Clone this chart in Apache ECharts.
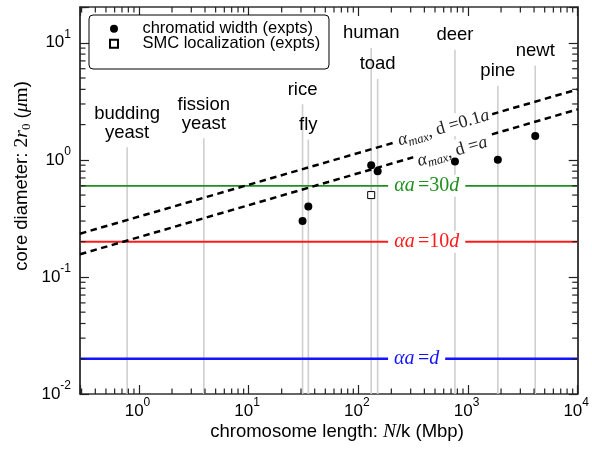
<!DOCTYPE html>
<html>
<head>
<meta charset="utf-8">
<script src="https://cdn.jsdelivr.net/npm/echarts@6/dist/echarts.min.js"></script>
<style>
  html, body { margin: 0; padding: 0; background: #fff; }
  #chart { width: 592px; height: 449px; }
</style>
</head>
<body>
<div id="chart"></div>
<script>
// Typical chromosome length (Mbp) of each organism and where its guide line stops (µm)
const species = ['budding\nyeast', 'fission\nyeast', 'rice', 'fly', 'human', 'toad', 'deer', 'pine', 'newt'];
const speciesLength = [0.78, 3.9, 31, 35, 131, 150, 760, 1870, 4100];
const guideTop = [1.28, 1.53, 2.98, 1.49, 9.0, 4.9, 8.7, 4.3, 6.4];

// Measured chromatid widths
const widthLength = [31, 35, 131, 150, 760, 1870, 4100];
const widthValue = [0.30, 0.40, 0.90, 0.80, 0.97, 1.00, 1.60];

// SMC localization
const smcLength = [131];
const smcValue = [0.50];

// Constant core diameters for fixed ratios αa / d
const levelValue = [0.6, 0.2, 0.02];

// Upper bounds α_max for d = 0.1a and d = a
const curveLength = [0.29, 10000];
const curveUpper = [0.234, 4.0];
const curveLower = [0.156, 2.7];

// Axis ranges and decade tick labels
const xMin = 0.29, xMax = 10000;
const yMin = 0.01, yMax = 20.2;
const xTicks = [1, 10, 100, 1000, 10000];
const yTicks = [0.01, 0.1, 1, 10];

const SANS = 'Liberation Sans';
const SERIF = 'Liberation Serif';

function isDecade(v, ticks) {
  return ticks.some(t => Math.abs(Math.log10(t) - Math.log10(v)) < 1e-6);
}
function powLabel(ticks) {
  return v => isDecade(v, ticks) ? '{b|10}{s|' + Math.round(Math.log10(v)) + '}' : '';
}
const tickRich = {
  b: { fontFamily: SANS, fontSize: 17, color: '#000' },
  s: { fontFamily: SANS, fontSize: 12, color: '#000', padding: [0, 0, 16, 0] }
};

function frameAxis(extra) {
  return Object.assign({
    type: 'log',
    logBase: 10,
    splitLine: { show: false },
    axisLine: { show: true, lineStyle: { color: '#000', width: 1.5 } },
    axisTick: { show: true, inside: true, length: 9, lineStyle: { color: '#222', width: 1.2 } },
    minorTick: { show: false }
  }, extra);
}

// Minor ticks at 2..9 × 10^k on all four sides of the frame
function renderMinorTicks(params, api) {
  const cs = params.coordSys;
  const left = cs.x, right = cs.x + cs.width, top = cs.y, bottom = cs.y + cs.height;
  const children = [];
  const seg = (x1, y1, x2, y2) => ({
    type: 'line', shape: { x1, y1, x2, y2 },
    style: { stroke: '#222', lineWidth: 1.2 }
  });
  for (let k = Math.floor(Math.log10(xMin)); k < Math.ceil(Math.log10(xMax)); k++) {
    for (let m = 2; m <= 9; m++) {
      const v = m * Math.pow(10, k);
      if (v <= xMin || v >= xMax) continue;
      const px = api.coord([v, 1])[0];
      children.push(seg(px, bottom, px, bottom - 5.5), seg(px, top, px, top + 5.5));
    }
  }
  for (let k = Math.floor(Math.log10(yMin)); k < Math.ceil(Math.log10(yMax)); k++) {
    for (let m = 2; m <= 9; m++) {
      const v = m * Math.pow(10, k);
      if (v <= yMin || v >= yMax) continue;
      const py = api.coord([1, v])[1];
      children.push(seg(left, py, left + 5.5, py), seg(right, py, right - 5.5, py));
    }
  }
  return { type: 'group', children };
}

// Vertical guide for each organism with its name above
function renderGuides(params, api) {
  const x = api.value(0);
  const base = api.coord([x, yMin]);
  const tip = api.coord([x, api.value(1)]);
  return {
    type: 'group',
    children: [
      { type: 'line', shape: { x1: base[0], y1: base[1], x2: tip[0], y2: tip[1] },
        style: { stroke: '#cfcfcf', lineWidth: 1.6 } },
      { type: 'text', x: tip[0], y: tip[1] - 5.5,
        style: { text: species[params.dataIndex], align: 'center', verticalAlign: 'bottom',
                 fontFamily: SANS, fontSize: 18.5, lineHeight: 18.5, fill: '#000' } }
    ]
  };
}

const mathRich = (color, size) => ({
  i: { fontFamily: SERIF, fontStyle: 'italic', fontSize: size, color },
  r: { fontFamily: SERIF, fontSize: size, color },
  sub: { fontFamily: SERIF, fontStyle: 'italic', fontSize: size * 0.7, color, padding: [9, 0, 0, 0] }
});

function levelSeries(value, color, width, text, labelX) {
  return {
    type: 'line',
    data: [[xMin, value], [xMax, value]],
    showSymbol: false,
    silent: true,
    z: 3,
    lineStyle: { color, width },
    markPoint: {
      symbol: 'circle', symbolSize: 0, silent: true,
      data: [{ coord: [labelX, value] }],
      label: {
        show: true, position: 'inside', formatter: text,
        backgroundColor: '#fff', padding: [1, 6],
        rich: mathRich(color, 20)
      }
    }
  };
}

function curveSeries(values, text, labelCoord) {
  return {
    type: 'line',
    data: curveLength.map((x, i) => [x, values[i]]),
    showSymbol: false,
    silent: true,
    z: 4,
    lineStyle: { color: '#000', width: 2.5, type: [6.5, 4.5] },
    markPoint: {
      symbol: 'circle', symbolSize: 0, silent: true,
      data: [{ coord: labelCoord }],
      label: {
        show: true, position: 'inside', formatter: text, rotate: 16,
        backgroundColor: '#fff', padding: [0, 3],
        rich: mathRich('#222', 18)
      }
    }
  };
}

const chart = echarts.init(document.getElementById('chart'), null, { renderer: 'canvas' });

chart.setOption({
  animation: false,
  backgroundColor: '#fff',
  grid: { left: 80, right: 12, top: 7, bottom: 55, containLabel: false },
  legend: {
    orient: 'vertical',
    left: 89, top: 15,
    padding: [5, 8.7, 16.5, 20],
    itemGap: -2.5,
    itemWidth: 8, itemHeight: 8,
    borderColor: '#000', borderWidth: 1, borderRadius: 4,
    backgroundColor: '#fff',
    textStyle: { fontFamily: SANS, fontSize: 16.5, color: '#000', lineHeight: 17.5, padding: [0, 0, 0, 19.4] },
    data: ['chromatid width (expts)', 'SMC localization (expts)']
  },
  xAxis: [
    frameAxis({
      position: 'bottom', min: xMin, max: xMax,
      axisLine: { show: true, lineStyle: { color: '#333', width: 1.5 } },
      axisLabel: { formatter: powLabel(xTicks), margin: 3, padding: [0, 3, 0, 0], rich: tickRich }
    }),
    frameAxis({
      position: 'top', min: xMin, max: xMax,
      axisLine: { show: true, lineStyle: { color: '#333', width: 1.5 } },
      axisLabel: { show: false }
    })
  ],
  yAxis: [
    frameAxis({
      position: 'left', min: yMin, max: yMax,
      axisLabel: { formatter: powLabel(yTicks), margin: 9, rich: tickRich }
    }),
    frameAxis({
      position: 'right', min: yMin, max: yMax,
      axisLabel: { show: false }
    })
  ],
  graphic: [
    {
      type: 'text', x: 337, y: 432,
      style: {
        text: '{s|chromosome length: }{i|N}{s|/k (Mbp)}',
        align: 'center', verticalAlign: 'middle',
        rich: {
          s: { fontFamily: SANS, fontSize: 18.5, color: '#000' },
          i: { fontFamily: SERIF, fontStyle: 'italic', fontSize: 19.5, color: '#000' }
        }
      }
    },
    {
      type: 'text', x: 22, y: 176, rotation: Math.PI / 2,
      style: {
        text: '{s|core diameter: }{r|2}{i|r}{sub|0}{s| (}{i|μ}{r|m}{s|)}',
        align: 'center', verticalAlign: 'middle',
        rich: {
          s: { fontFamily: SANS, fontSize: 18.5, color: '#000' },
          r: { fontFamily: SERIF, fontSize: 19.5, color: '#000' },
          i: { fontFamily: SERIF, fontStyle: 'italic', fontSize: 19.5, color: '#000' },
          sub: { fontFamily: SERIF, fontSize: 13, color: '#000', padding: [10, 0, 0, 0] }
        }
      }
    }
  ],
  series: [
    {
      type: 'custom', name: 'guides', silent: true, z: 1, clip: false,
      data: speciesLength.map((x, i) => [x, guideTop[i]]),
      encode: { x: 0, y: 1 },
      renderItem: renderGuides
    },
    levelSeries(levelValue[0], '#1f8f1f', 1.8, '{i|αa} {r|=30}{i|d}', 420),
    levelSeries(levelValue[1], '#ff1a1a', 2, '{i|αa} {r|=10}{i|d}', 420),
    levelSeries(levelValue[2], '#1414ff', 2.5, '{i|αa} {r|=}{i|d}', 340),
    curveSeries(curveUpper, '{i|α}{sub|max}{r|, d =0.1}{i|a}', [600, 1.87]),
    curveSeries(curveLower, '{i|α}{sub|max}{r|, d =}{i|a}', [720, 1.17]),
    {
      name: 'chromatid width (expts)', type: 'scatter', z: 6,
      data: widthLength.map((x, i) => [x, widthValue[i]]),
      symbol: 'circle', symbolSize: 8,
      itemStyle: { color: '#000', opacity: 1 }
    },
    {
      name: 'SMC localization (expts)', type: 'scatter', z: 6,
      data: smcLength.map((x, i) => [x, smcValue[i]]),
      symbol: 'rect', symbolSize: 7,
      itemStyle: { color: '#fff', borderColor: '#000', borderWidth: 1, opacity: 1 }
    },
    {
      type: 'custom', name: 'minor ticks', silent: true, z: 7, clip: false,
      data: [[1, 1]],
      encode: { x: 0, y: 1 },
      renderItem: renderMinorTicks
    }
  ]
});
</script>
</body>
</html>
